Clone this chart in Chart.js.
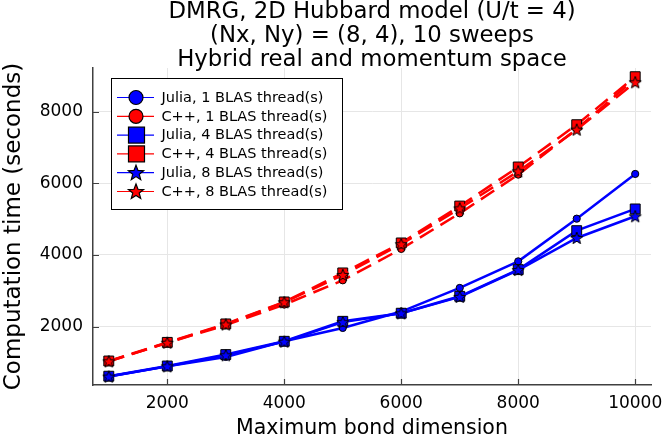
<!DOCTYPE html>
<html lang="en">
<head>
  <meta charset="UTF-8">
  <title>DMRG timings</title>
  <script src="https://cdn.jsdelivr.net/npm/chart.js"></script>
  <style>
    html, body { margin: 0; padding: 0; background: #fff; }
    #wrap { width: 664px; height: 443px; }
  </style>
</head>
<body>
  <div id="wrap"><canvas id="timing"></canvas></div>
  <script>
    const bondDims = [1000, 2000, 3000, 4000, 5000, 6000, 7000, 8000, 9000, 10000];
    const juliaOne = [605, 890, 1154, 1590, 1963, 2420, 3080, 3822, 5014, 6262];
    const cppOne = [1030, 1545, 2040, 2614, 3293, 4169, 5162, 6243, 7520, 8920];
    const juliaFour = [615, 900, 1219, 1590, 2148, 2374, 2846, 3591, 4679, 5285];
    const cppFour = [1040, 1560, 2075, 2689, 3499, 4336, 5366, 6457, 7637, 8977];
    const juliaEight = [605, 890, 1200, 1580, 2125, 2370, 2830, 3580, 4475, 5080];
    const cppEight = [1030, 1550, 2060, 2680, 3440, 4300, 5300, 6335, 7498, 8821];
    const xTicks = [2000, 4000, 6000, 8000, 10000];
    const yTicks = [2000, 4000, 6000, 8000];
    const titleLines = ["DMRG, 2D Hubbard model (U/t = 4)", "(Nx, Ny) = (8, 4), 10 sweeps", "Hybrid real and momentum space"];

    const FONT = "'DejaVu Sans', sans-serif";
    const BLUE = '#0000ff';
    const RED = '#ff0000';
    const AXIS = '#404040';

    function starPath(g, x, y, R, r) {
      g.beginPath();
      for (let k = 0; k < 10; k++) {
        const rad = k % 2 ? r : R;
        const a = -Math.PI / 2 + k * Math.PI / 5;
        g.lineTo(x + rad * Math.cos(a), y + rad * Math.sin(a));
      }
      g.closePath();
    }

    function starCanvas(fill) {
      const c = document.createElement('canvas');
      c.width = c.height = 16;
      const g = c.getContext('2d');
      starPath(g, 8, 8.5, 6.4, 2.7);
      g.fillStyle = fill;
      g.fill();
      g.strokeStyle = '#000';
      g.lineWidth = 1;
      g.stroke();
      return c;
    }

    function series(label, values, color, dashed, marker) {
      const ds = {
        label: label,
        data: bondDims.map((x, i) => ({ x: x, y: values[i] })),
        borderColor: color,
        backgroundColor: color,
        borderWidth: 2.5,
        borderDash: dashed ? [16, 8] : [],
        pointBackgroundColor: color,
        pointBorderColor: '#000',
        pointBorderWidth: 1,
        tension: 0,
        marker: marker
      };
      if (marker === 'circle') { ds.pointStyle = 'circle'; ds.pointRadius = 3.6; }
      if (marker === 'rect') { ds.pointStyle = 'rect'; ds.pointRadius = 7; }
      if (marker === 'star') { ds.pointStyle = starCanvas(color); ds.pointRadius = 6; }
      return ds;
    }

    const datasets = [
      series('Julia, 1 BLAS thread(s)', juliaOne, BLUE, false, 'circle'),
      series('C++, 1 BLAS thread(s)', cppOne, RED, true, 'circle'),
      series('Julia, 4 BLAS thread(s)', juliaFour, BLUE, false, 'rect'),
      series('C++, 4 BLAS thread(s)', cppFour, RED, true, 'rect'),
      series('Julia, 8 BLAS thread(s)', juliaEight, BLUE, false, 'star'),
      series('C++, 8 BLAS thread(s)', cppEight, RED, true, 'star')
    ];
    // last series on top, like the original
    datasets.forEach((ds, i) => { ds.order = datasets.length - i; });

    // title, inward tick marks and the boxed legend
    const decorations = {
      id: 'decorations',
      beforeDatasetsDraw(chart) {
        const ctx = chart.ctx;
        const a = chart.chartArea;
        const xs = chart.scales.x, ys = chart.scales.y;
        ctx.save();
        ctx.strokeStyle = AXIS;
        ctx.lineWidth = 1.2;
        ctx.beginPath();
        xTicks.forEach(v => {
          const px = Math.round(xs.getPixelForValue(v)) + 0.5;
          ctx.moveTo(px, a.bottom);
          ctx.lineTo(px, a.bottom - 6);
        });
        yTicks.forEach(v => {
          const py = Math.round(ys.getPixelForValue(v)) + 0.5;
          ctx.moveTo(a.left, py);
          ctx.lineTo(a.left + 6, py);
        });
        ctx.stroke();
        ctx.restore();
      },
      afterDraw(chart) {
        const ctx = chart.ctx;
        const a = chart.chartArea;
        ctx.save();
        ctx.fillStyle = '#000';
        ctx.textAlign = 'center';
        ctx.textBaseline = 'middle';
        ctx.font = '22.8px ' + FONT;
        const cx = (a.left + a.right) / 2;
        titleLines.forEach((t, i) => ctx.fillText(t, cx, 12.5 + i * 24));

        // legend
        const lx = 111.5, ly = 78.5, lw = 231, lh = 131;
        ctx.fillStyle = '#fff';
        ctx.fillRect(lx, ly, lw, lh);
        ctx.strokeStyle = '#000';
        ctx.lineWidth = 1;
        ctx.strokeRect(lx, ly, lw, lh);
        ctx.font = '14.5px ' + FONT;
        ctx.textAlign = 'left';
        chart.data.datasets.forEach((ds, i) => {
          const y = 97.5 + i * 18.8;
          ctx.strokeStyle = ds.borderColor;
          ctx.lineWidth = 1.2;
          ctx.setLineDash(ds.borderDash);
          ctx.beginPath();
          ctx.moveTo(117, y);
          ctx.lineTo(154, y);
          ctx.stroke();
          ctx.setLineDash([]);
          ctx.fillStyle = ds.borderColor;
          ctx.strokeStyle = '#000';
          ctx.lineWidth = 1.2;
          if (ds.marker === 'circle') {
            ctx.beginPath();
            ctx.arc(136, y, 7, 0, Math.PI * 2);
            ctx.fill();
            ctx.stroke();
          } else if (ds.marker === 'rect') {
            ctx.fillRect(128.5, y - 8, 16, 16);
            ctx.strokeRect(128.5, y - 8, 16, 16);
          } else {
            starPath(ctx, 136, y + 0.5, 8, 3.4);
            ctx.fill();
            ctx.stroke();
          }
          ctx.fillStyle = '#000';
          ctx.fillText(ds.label, 161.5, y + 0.5);
        });
        ctx.restore();
      }
    };

    new Chart(document.getElementById('timing'), {
      type: 'line',
      data: { datasets: datasets },
      options: {
        responsive: true,
        maintainAspectRatio: false,
        animation: false,
        events: [],
        layout: { padding: { top: 68, right: 13, left: 0, bottom: 0 } },
        plugins: {
          legend: { display: false },
          title: { display: false },
          tooltip: { enabled: false }
        },
        scales: {
          x: {
            type: 'linear',
            min: 730,
            max: 10270,
            afterBuildTicks: s => { s.ticks = xTicks.map(v => ({ value: v })); },
            afterFit: s => { s.height = 58; s.paddingLeft = 0; s.paddingRight = 0; },
            grid: { color: '#e6e6e6', lineWidth: 1, drawTicks: false },
            border: { display: true, color: AXIS, width: 1.5 },
            ticks: {
              padding: 8,
              maxRotation: 0,
              color: '#000',
              font: { family: FONT, size: 17 },
              callback: v => String(v)
            },
            title: {
              display: true,
              text: 'Maximum bond dimension',
              color: '#000',
              font: { family: FONT, size: 20.5 },
              padding: { top: 0, bottom: 2 }
            }
          },
          y: {
            type: 'linear',
            min: 370,
            max: 9220,
            afterBuildTicks: s => { s.ticks = yTicks.map(v => ({ value: v })); },
            afterFit: s => { s.width = 93; s.paddingTop = 0; s.paddingBottom = 0; },
            grid: { color: '#e6e6e6', lineWidth: 1, drawTicks: false },
            border: { display: true, color: AXIS, width: 1.5 },
            ticks: {
              padding: 10,
              color: '#000',
              font: { family: FONT, size: 17 },
              callback: v => String(v)
            },
            title: {
              display: true,
              text: 'Computation time (seconds)',
              color: '#000',
              font: { family: FONT, size: 23 },
              padding: { top: 0, bottom: 0 }
            }
          }
        }
      },
      plugins: [decorations]
    });
  </script>
</body>
</html>
